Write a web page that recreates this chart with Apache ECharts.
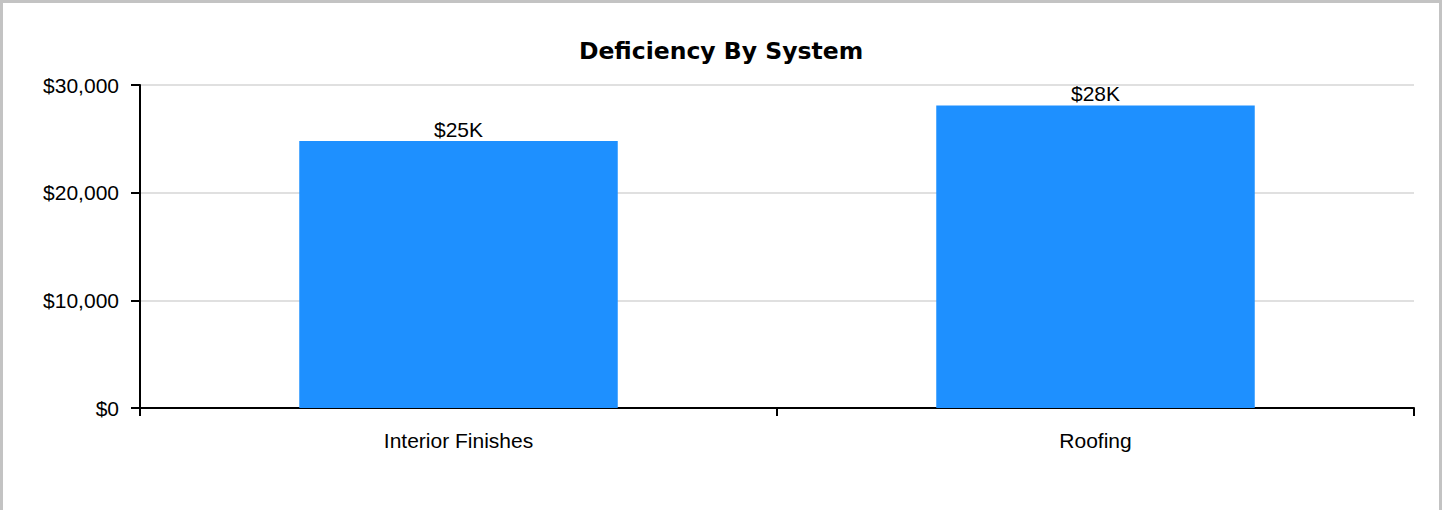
<!DOCTYPE html>
<html lang="en">
<head>
	<meta charset="UTF-8">
	<title>Deficiency By System</title>
	<script type="text/javascript" src="https://cdn.jsdelivr.net/npm/echarts@6/dist/echarts.min.js"></script>
	<style>
		html, body { margin: 0; padding: 0; background: #fff; }
		.frame { width: 1436px; height: 507px; border: 3px solid #c3c3c3; border-bottom: none; }
		#chart_show { width: 1436px; height: 507px; }
	</style>
</head>
<body>
	<div class="frame"><div id="chart_show"></div></div>
	<script>
		// data
		var systems = ['Interior Finishes', 'Roofing'];
		var deficiency = [24800, 28100];
		var barLabels = ['$25K', '$28K'];

		var oChart = echarts.init(document.getElementById('chart_show'), null, {renderer: 'svg'});

		function money(v) {
			return '$' + v.toString().replace(/\B(?=(\d{3})+(?!\d))/g, ',');
		}

		var chartopt = {
			animation: false,
			title: {
				text: 'Deficiency By System',
				left: 'center',
				top: 31,
				textStyle: {
					fontFamily: 'DejaVu Sans',
					fontWeight: 'bold',
					fontSize: 23.5,
					color: '#000'
				}
			},
			grid: {
				left: 137,
				right: 25,
				top: 82,
				bottom: 102,
				containLabel: false
			},
			xAxis: [{
				type: 'category',
				data: systems,
				axisLine: {lineStyle: {color: '#000', width: 2}},
				axisTick: {show: true, length: 8, lineStyle: {color: '#000', width: 2}},
				axisLabel: {
					margin: 22,
					color: '#000',
					fontSize: 21,
					fontFamily: 'Liberation Sans'
				}
			}],
			yAxis: [{
				type: 'value',
				min: 0,
				max: 30000,
				interval: 10000,
				axisLine: {show: true, lineStyle: {color: '#000', width: 2}},
				axisTick: {show: true, length: 9, lineStyle: {color: '#000', width: 2}},
				splitLine: {lineStyle: {color: '#d6d6d6', width: 1.5}},
				axisLabel: {
					margin: 21,
					color: '#000',
					fontSize: 21,
					fontFamily: 'Liberation Sans',
					formatter: money
				}
			}],
			series: [{
				type: 'bar',
				data: deficiency,
				barWidth: '50%',
				itemStyle: {color: '#1e90ff'},
				label: {
					show: true,
					position: 'top',
					distance: 1,
					color: '#000',
					fontSize: 21,
					fontFamily: 'Liberation Sans',
					formatter: function (p) { return barLabels[p.dataIndex]; }
				}
			}]
		};
		oChart.setOption(chartopt);
	</script>
</body>
</html>
